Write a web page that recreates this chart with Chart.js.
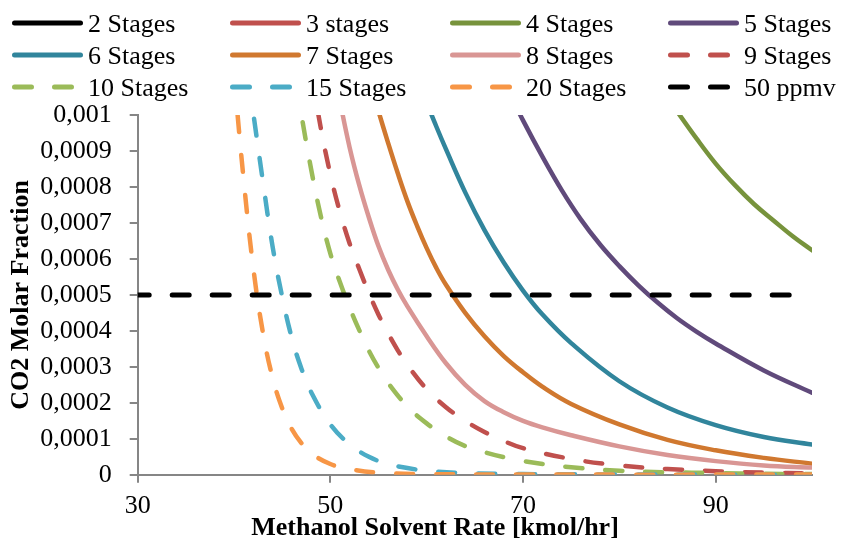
<!DOCTYPE html>
<html>
<head>
<meta charset="utf-8">
<script src="https://cdn.jsdelivr.net/npm/chart.js@4.4.1/dist/chart.umd.min.js"></script>
<style>
  html, body { margin: 0; padding: 0; background: #fff; }
  canvas { display: block; }
</style>
</head>
<body>
<canvas id="canvas1" width="841" height="538"></canvas>
<script>
// x = methanol solvent rate [kmol/hr], y = CO2 molar fraction
// 2 and 3 stages stay above 0.001 over the whole range, so nothing of them is visible
var stage2X = [];
var stage2Y = [];
var stage3X = [];
var stage3Y = [];
var stage4X = [85, 86, 88, 90, 92, 94, 96, 98, 100];
var stage4Y = [10.5e-4, 10.1e-4, 9.35e-4, 8.65e-4, 8.05e-4, 7.52e-4, 7.07e-4, 6.63e-4, 6.24e-4];
var stage5X = [68, 69, 70, 72, 74, 76, 78, 80, 82, 84, 86, 88, 90, 95, 100];
var stage5Y = [11.0e-4, 10.4e-4, 9.85e-4, 8.85e-4, 7.92e-4, 7.1e-4, 6.4e-4, 5.8e-4, 5.26e-4, 4.78e-4, 4.35e-4, 3.98e-4, 3.65e-4, 2.9e-4, 2.28e-4];
var stage6X = [59, 60, 61, 62, 64, 66, 68, 70, 72, 75, 80, 85, 90, 95, 100];
var stage6Y = [11.1e-4, 10.35e-4, 9.68e-4, 9.05e-4, 7.85e-4, 6.8e-4, 5.9e-4, 5.12e-4, 4.46e-4, 3.66e-4, 2.6e-4, 1.87e-4, 1.38e-4, 1.05e-4, 0.84e-4];
var stage7X = [54, 55, 56, 57, 58, 59, 60, 61, 62, 64, 66, 68, 70, 72, 75, 80, 85, 90, 95, 100];
var stage7Y = [11.0e-4, 10.1e-4, 9.22e-4, 8.38e-4, 7.6e-4, 6.92e-4, 6.3e-4, 5.75e-4, 5.28e-4, 4.5e-4, 3.85e-4, 3.3e-4, 2.85e-4, 2.45e-4, 1.97e-4, 1.4e-4, 0.97e-4, 0.68e-4, 0.47e-4, 0.31e-4];
var stage8X = [50, 51, 52, 53, 54, 55, 56, 57, 58, 60, 62, 64, 66, 68, 70, 72, 75, 80, 85, 90, 95, 100];
var stage8Y = [11.8e-4, 10.38e-4, 9.1e-4, 8.05e-4, 7.15e-4, 6.35e-4, 5.7e-4, 5.15e-4, 4.68e-4, 3.85e-4, 3.1e-4, 2.5e-4, 2.05e-4, 1.74e-4, 1.5e-4, 1.32e-4, 1.1e-4, 0.79e-4, 0.55e-4, 0.38e-4, 0.26e-4, 0.2e-4];
var stage9X = [48, 49, 50, 51, 52, 53, 54, 55, 56, 57, 58, 60, 62, 64, 66, 68, 70, 75, 80, 85, 90, 95, 100];
var stage9Y = [11.2e-4, 9.65e-4, 8.35e-4, 7.3e-4, 6.43e-4, 5.72e-4, 5.05e-4, 4.45e-4, 3.93e-4, 3.46e-4, 3.05e-4, 2.38e-4, 1.88e-4, 1.5e-4, 1.19e-4, 0.94e-4, 0.74e-4, 0.44e-4, 0.26e-4, 0.16e-4, 0.1e-4, 0.06e-4, 0.04e-4];
var stage10X = [46.5, 47, 48, 49, 50, 51, 52, 53, 54, 55, 56, 58, 60, 62, 64, 66, 68, 70, 75, 80, 85, 90, 95, 100];
var stage10Y = [10.9e-4, 10.0e-4, 8.5e-4, 7.2e-4, 6.15e-4, 5.35e-4, 4.65e-4, 4.02e-4, 3.45e-4, 2.97e-4, 2.55e-4, 1.9e-4, 1.43e-4, 1.07e-4, 0.8e-4, 0.63e-4, 0.49e-4, 0.38e-4, 0.21e-4, 0.11e-4, 0.07e-4, 0.05e-4, 0.03e-4, 0.02e-4];
var stage15X = [41.5, 42, 43, 44, 45, 46, 47, 48, 50, 52, 54, 56, 58, 60, 65, 70, 80, 90, 100];
var stage15Y = [11.0e-4, 10.05e-4, 8.15e-4, 6.35e-4, 4.95e-4, 3.8e-4, 2.95e-4, 2.3e-4, 1.4e-4, 0.85e-4, 0.5e-4, 0.3e-4, 0.19e-4, 0.11e-4, 0.04e-4, 0.02e-4, 0.01e-4, 0.005e-4, 0.003e-4];
var stage20X = [40, 41, 42, 43, 44, 45, 46, 47, 48, 50, 52, 55, 60, 70, 80, 90, 100];
var stage20Y = [11.1e-4, 8.2e-4, 5.75e-4, 3.95e-4, 2.7e-4, 1.85e-4, 1.27e-4, 0.88e-4, 0.6e-4, 0.3e-4, 0.16e-4, 0.06e-4, 0.02e-4, 0.01e-4, 0.005e-4, 0.005e-4, 0.005e-4];
var limitX = [30, 100];
var limitY = [0.0005, 0.0005];

var xTicks = [30, 50, 70, 90];
var yTicks = [0, 0.0001, 0.0002, 0.0003, 0.0004, 0.0005, 0.0006, 0.0007, 0.0008, 0.0009, 0.001];

var FONT = "'Liberation Serif', 'Times New Roman', serif";
var DASH = [17, 23];

function pts(xs, ys) {
  return xs.map(function(x, i) { return {x: x, y: ys[i]}; });
}

function series(label, xs, ys, color, dashed) {
  return {
    label: label,
    data: pts(xs, ys),
    borderColor: color,
    backgroundColor: color,
    borderWidth: 4.5,
    borderDash: dashed ? DASH : [],
    borderCapStyle: 'round',
    borderJoinStyle: 'round',
    pointRadius: 0,
    tension: 0.4,
    fill: false
  };
}

var datasets = [
  series('2 Stages', stage2X, stage2Y, '#000000', false),
  series('3 stages', stage3X, stage3Y, '#C0504D', false),
  series('4 Stages', stage4X, stage4Y, '#77933C', false),
  series('5 Stages', stage5X, stage5Y, '#604A7B', false),
  series('6 Stages', stage6X, stage6Y, '#31859C', false),
  series('7 Stages', stage7X, stage7Y, '#D0782F', false),
  series('8 Stages', stage8X, stage8Y, '#D99694', false),
  series('9 Stages', stage9X, stage9Y, '#C0504D', true),
  series('10 Stages', stage10X, stage10Y, '#9BBB59', true),
  series('15 Stages', stage15X, stage15Y, '#4BACC6', true),
  series('20 Stages', stage20X, stage20Y, '#F79646', true),
  series('50 ppmv', limitX, limitY, '#000000', true)
];
datasets[11].borderWidth = 5;
datasets[11].borderDashOffset = 5.5;
datasets[11].tension = 0;
// later series drawn on top, as in the original
datasets.forEach(function(ds, i) { ds.order = -i; });

// 4-column legend above the plot, plus the x axis title
var columnLegend = {
  id: 'columnLegend',
  afterDraw: function(chart) {
    var ctx = chart.ctx;
    var cols = [12, 230, 450, 668];
    var rows = [23, 55, 87];
    ctx.save();
    chart.data.datasets.forEach(function(ds, i) {
      var x = cols[i % 4], y = rows[Math.floor(i / 4)];
      ctx.beginPath();
      ctx.strokeStyle = ds.borderColor;
      ctx.lineWidth = 5;
      ctx.lineCap = 'round';
      ctx.setLineDash(ds.borderDash || []);
      ctx.moveTo(x + 2.5, y);
      ctx.lineTo(x + 68.5, y);
      ctx.stroke();
      ctx.setLineDash([]);
      ctx.fillStyle = '#000';
      ctx.font = '26px ' + FONT;
      ctx.textAlign = 'left';
      ctx.textBaseline = 'alphabetic';
      ctx.fillText(ds.label, x + 76, y + 9);
    });
    ctx.font = 'bold 26px ' + FONT;
    ctx.textAlign = 'center';
    ctx.fillText('Methanol Solvent Rate [kmol/hr]', 435, 535);
    ctx.restore();
  }
};

window.onload = function() {
  Chart.defaults.font.family = FONT;
  Chart.defaults.font.size = 26;
  Chart.defaults.color = '#000';

  var ctx1 = document.getElementById('canvas1').getContext('2d');
  window.myLine = new Chart(ctx1, {
    type: 'line',
    data: { datasets: datasets },
    plugins: [columnLegend],
    options: {
      responsive: false,
      animation: false,
      layout: { padding: { left: 2, right: 29, top: 115, bottom: 8 } },
      plugins: {
        legend: { display: false },
        tooltip: { enabled: false }
      },
      scales: {
        x: {
          type: 'linear',
          min: 30,
          max: 100,
          afterBuildTicks: function(scale) {
            scale.ticks = xTicks.map(function(v) { return {value: v}; });
          },
          ticks: { padding: 8, maxRotation: 0, autoSkip: false, color: '#000' },
          grid: { drawOnChartArea: false, drawTicks: true, tickLength: 8, color: '#868686', lineWidth: 2 },
          border: { color: '#868686', width: 2 }
        },
        y: {
          min: 0,
          max: 0.001,
          afterBuildTicks: function(scale) {
            scale.ticks = yTicks.map(function(v) { return {value: v}; });
          },
          ticks: {
            padding: 18,
            color: '#000',
            callback: function(v) {
              if (v === 0) return '0';
              return String(parseFloat(v.toFixed(4))).replace('.', ',');
            }
          },
          grid: { drawOnChartArea: false, drawTicks: true, tickLength: 8, color: '#868686', lineWidth: 2 },
          border: { color: '#868686', width: 2 },
          title: {
            display: true,
            text: 'CO2 Molar Fraction',
            color: '#000',
            font: { size: 26, weight: 'bold' },
            padding: { top: 4, bottom: -15 }
          }
        }
      }
    }
  });
};
</script>
</body>
</html>
